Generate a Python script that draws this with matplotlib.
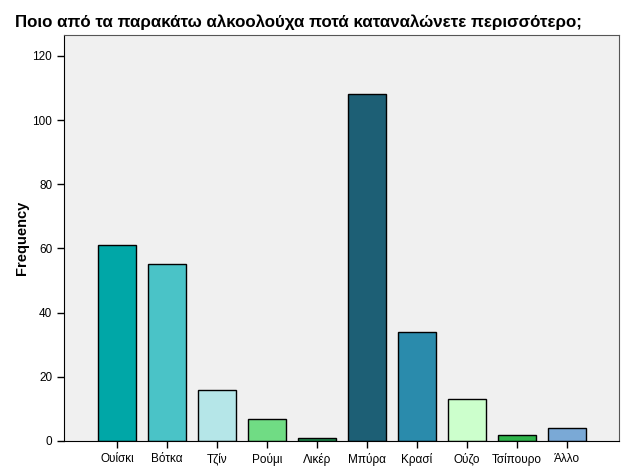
import numpy as np
import matplotlib
matplotlib.use('Agg')
from matplotlib import pyplot as plt

plt.rcParams['font.family'] = ['Liberation Sans', 'DejaVu Sans']

# data
drinks = ['Ουίσκι', 'Βότκα', 'Τζίν', 'Ρούμι', 'Λικέρ', 'Μπύρα', 'Κρασί', 'Ούζο', 'Τσίπουρο', 'Άλλο']
counts = [61, 55, 16, 7, 1, 108, 34, 13, 2, 4]
bar_colors = ['#00a7a7', '#4ac3c7', '#b5e6e8', '#70dc84', '#1f8a4c',
              '#1d5f75', '#2a8bac', '#ccffcc', '#2fb34b', '#7aa9d6']
yticks = [0, 20, 40, 60, 80, 100, 120]

fig = plt.figure(figsize=(6.25, 4.67), dpi=100)
ax = fig.add_axes([0.1024, 0.0557, 0.888, 0.8693])
ax.set_facecolor('#f0f0f0')

x = np.arange(len(drinks))
ax.bar(x, counts, width=0.76, color=bar_colors, edgecolor='black', linewidth=1.0, zorder=2)

ax.set_xlim(-1.06, 10.04)
ax.set_ylim(0, 126.5)
ax.set_yticks(yticks)
ax.set_xticks(x)
ax.set_xticklabels(drinks, fontsize=8.5)
ax.tick_params(axis='y', labelsize=8.5, length=5, width=1)
ax.tick_params(axis='x', length=5, width=1)

for side in ['left', 'bottom']:
    ax.spines[side].set_color('black')
for side in ['top', 'right']:
    ax.spines[side].set_color('#555555')

ax.set_ylabel('Frequency', fontsize=10.5, fontweight='bold')
ax.yaxis.set_label_coords(-0.063, 0.5)
fig.text(0.024, 0.953, 'Ποιο από τα παρακάτω αλκοολούχα ποτά καταναλώνετε περισσότερο;',
         fontsize=12.2, fontweight='bold', ha='left', va='center')

plt.savefig('out.png', dpi=100)
